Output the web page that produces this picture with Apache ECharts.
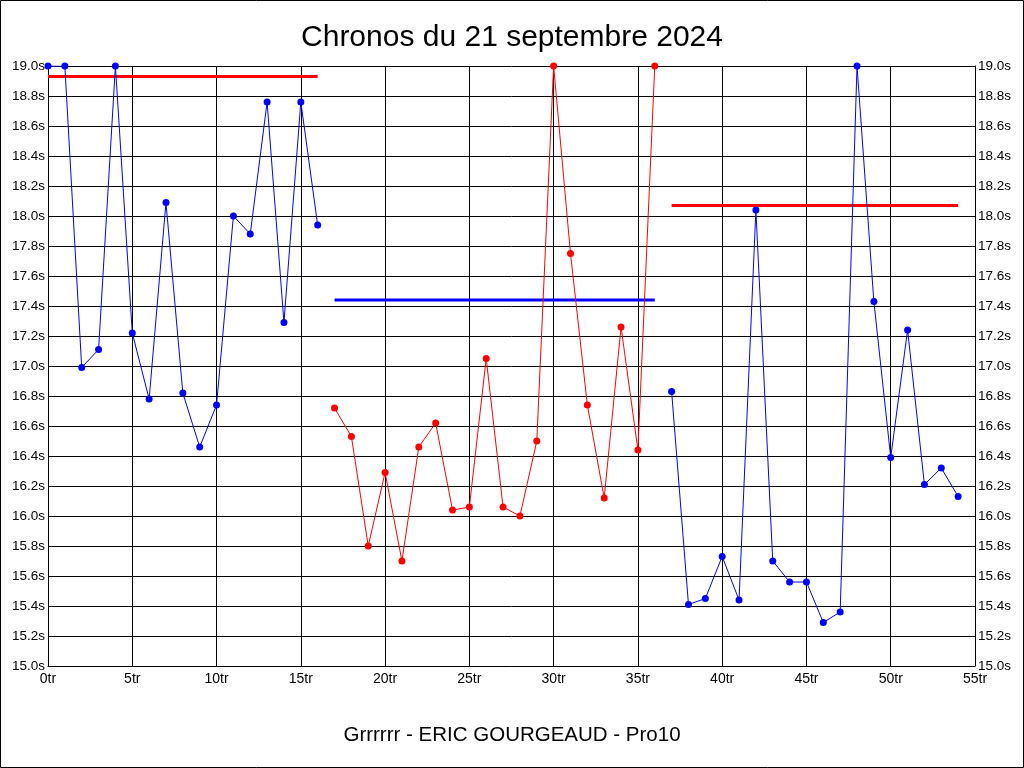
<!DOCTYPE html>
<html lang="fr">
<head>
<meta charset="UTF-8">
<title>Chronos du 21 septembre 2024</title>
<script src="https://cdn.jsdelivr.net/npm/echarts@6/dist/echarts.min.js"></script>
<style>
  html, body { margin: 0; padding: 0; background: #fff; }
  #chart { width: 1024px; height: 768px; }
</style>
</head>
<body>
<div id="chart"></div>
<script>
// tours 0-16 (bleu), 17-36 (rouge), 37-54 (bleu)
var lapsA = [0, 1, 2, 3, 4, 5, 6, 7, 8, 9, 10, 11, 12, 13, 14, 15, 16]
var timesA = [19.0, 19.0, 16.99, 17.11, 19.0, 17.22, 16.78, 18.09, 16.82, 16.46, 16.74, 18.0, 17.88, 18.76, 17.29, 18.76, 17.94]
var lapsB = [17, 18, 19, 20, 21, 22, 23, 24, 25, 26, 27, 28, 29, 30, 31, 32, 33, 34, 35, 36]
var timesB = [16.72, 16.53, 15.8, 16.29, 15.7, 16.46, 16.62, 16.04, 16.06, 17.05, 16.06, 16.0, 16.5, 19.0, 17.75, 16.74, 16.12, 17.26, 16.44, 19.0]
var lapsC = [37, 38, 39, 40, 41, 42, 43, 44, 45, 46, 47, 48, 49, 50, 51, 52, 53, 54]
var timesC = [16.83, 15.41, 15.45, 15.73, 15.44, 18.04, 15.7, 15.56, 15.56, 15.29, 15.36, 19.0, 17.43, 16.39, 17.24, 16.21, 16.32, 16.13]
// lignes de référence : [début, fin, valeur]
var refA = [0, 16, 18.93]
var refB = [17, 36, 17.44]
var refC = [37, 54, 18.07]

function pairs(xs, ys) {
  return xs.map(function (x, i) { return [x, ys[i]] })
}
function ref(r) {
  return [[r[0], r[2]], [r[1], r[2]]]
}

var chart = echarts.init(document.getElementById('chart'))

var yLabel = {
  color: '#000',
  fontFamily: 'Liberation Sans, Arial, sans-serif',
  fontSize: 13.5,
  margin: 3,
  formatter: function (v) { return v.toFixed(1) + 's' }
}

function dataSeries(data, color) {
  return {
    type: 'line',
    data: data,
    symbol: 'circle',
    symbolSize: 7,
    itemStyle: { color: color },
    lineStyle: { color: color, width: 1 },
    z: 3
  }
}
function refSeries(data, color) {
  return {
    type: 'line',
    data: data,
    symbol: 'none',
    lineStyle: { color: color, width: 3 },
    z: 2
  }
}

var option = {
  backgroundColor: '#fff',
  animation: false,
  graphic: [{
    type: 'rect',
    shape: { x: 0.5, y: 0.5, width: 1023, height: 767 },
    style: { fill: 'none', stroke: '#000', lineWidth: 1 }
  }],
  title: [{
    text: 'Chronos du 21 septembre 2024',
    left: 'center',
    top: 18,
    textStyle: { fontFamily: 'Liberation Sans, Arial, sans-serif', fontSize: 30, fontWeight: 'normal', color: '#000' }
  }, {
    text: 'Grrrrrr - ERIC GOURGEAUD - Pro10',
    left: 'center',
    top: 720,
    textStyle: { fontFamily: 'Liberation Sans, Arial, sans-serif', fontSize: 20.5, fontWeight: 'normal', color: '#000' }
  }],
  grid: { left: 48, right: 49, top: 66, bottom: 102 },
  xAxis: {
    type: 'value',
    min: 0,
    max: 55,
    interval: 5,
    axisLine: { show: true, lineStyle: { color: '#000', width: 1 } },
    axisTick: { show: false },
    splitLine: { show: true, lineStyle: { color: '#000', width: 1 } },
    axisLabel: {
      color: '#000',
      fontFamily: 'Liberation Sans Narrow, Arial Narrow, sans-serif',
      fontSize: 14,
      margin: 6,
      formatter: function (v) { return v + 'tr' }
    }
  },
  yAxis: [{
    type: 'value',
    min: 15,
    max: 19,
    interval: 0.2,
    position: 'left',
    axisLine: { show: true, lineStyle: { color: '#000', width: 1 } },
    axisTick: { show: false },
    splitLine: { show: true, lineStyle: { color: '#000', width: 1 } },
    axisLabel: yLabel
  }, {
    type: 'value',
    min: 15,
    max: 19,
    interval: 0.2,
    position: 'right',
    axisLine: { show: true, lineStyle: { color: '#000', width: 1 } },
    axisTick: { show: false },
    splitLine: { show: false },
    axisLabel: yLabel
  }],
  series: [
    refSeries(ref(refA), '#ff0000'),
    refSeries(ref(refB), '#0000ff'),
    refSeries(ref(refC), '#ff0000'),
    dataSeries(pairs(lapsA, timesA), '#0000ff'),
    dataSeries(pairs(lapsB, timesB), '#ff0000'),
    dataSeries(pairs(lapsC, timesC), '#0000ff')
  ]
}
chart.setOption(option)
</script>
</body>
</html>
